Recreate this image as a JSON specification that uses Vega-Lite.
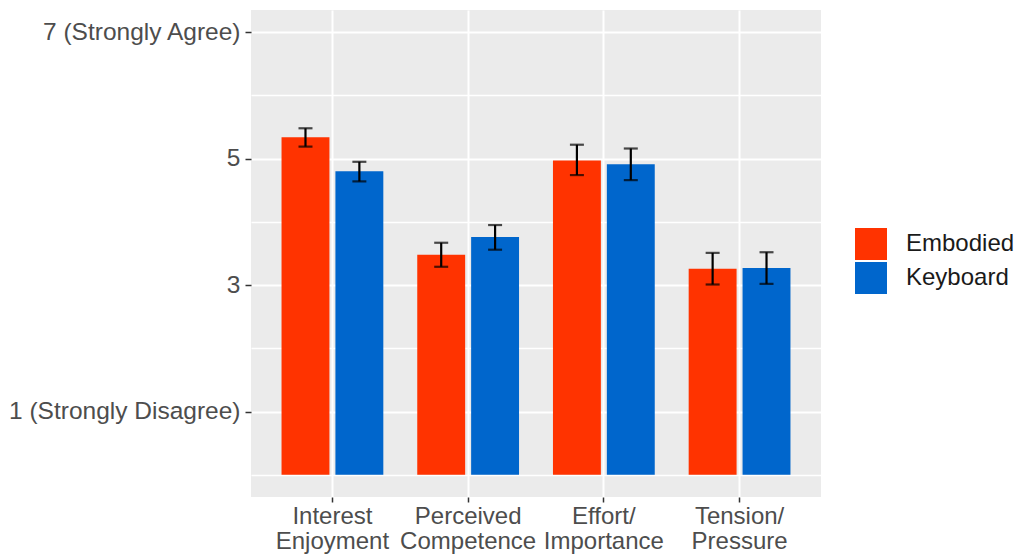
{
  "$schema": "https://vega.github.io/schema/vega-lite/v6.json",
  "autosize": {"type": "none"},
  "padding": {"left": 251, "top": 10, "right": 195, "bottom": 57},
  "width": 570,
  "height": 487,
  "background": "white",
  "data": {
    "values": [
      {"measure": "Interest Enjoyment", "condition": "Embodied", "mean": 5.34, "lo": 5.19, "hi": 5.48},
      {"measure": "Interest Enjoyment", "condition": "Keyboard", "mean": 4.8, "lo": 4.64, "hi": 4.95},
      {"measure": "Perceived Competence", "condition": "Embodied", "mean": 3.48, "lo": 3.29, "hi": 3.67},
      {"measure": "Perceived Competence", "condition": "Keyboard", "mean": 3.76, "lo": 3.56, "hi": 3.95},
      {"measure": "Effort/ Importance", "condition": "Embodied", "mean": 4.97, "lo": 4.74, "hi": 5.22},
      {"measure": "Effort/ Importance", "condition": "Keyboard", "mean": 4.91, "lo": 4.66, "hi": 5.16},
      {"measure": "Tension/ Pressure", "condition": "Embodied", "mean": 3.26, "lo": 3.01, "hi": 3.51},
      {"measure": "Tension/ Pressure", "condition": "Keyboard", "mean": 3.27, "lo": 3.02, "hi": 3.52}
    ]
  },
  "encoding": {
    "x": {
      "field": "measure",
      "type": "nominal",
      "sort": null,
      "scale": {"paddingInner": 0.25, "paddingOuter": 0.225},
      "axis": {
        "title": null,
        "labelAngle": 0,
        "labelFontSize": 24,
        "labelExpr": "split(datum.label, ' ')",
        "labelLineHeight": 25.5,
        "labelPadding": 2,
        "tickSize": 5,
        "bandPosition": 0.5,
        "grid": true
      }
    },
    "xOffset": {
      "field": "condition",
      "type": "nominal",
      "scale": {"paddingInner": 0.111, "paddingOuter": 0}
    }
  },
  "layer": [
    {
      "mark": {"type": "bar"},
      "encoding": {
        "y": {
          "field": "mean",
          "type": "quantitative",
          "scale": {"domain": [-0.35, 7.35], "nice": false, "zero": false},
          "axis": {
            "title": null,
            "values": [0, 1, 2, 3, 4, 5, 6, 7],
            "format": "d",
            "labelLimit": 0,
            "labelFontSize": 24.5,
            "labelExpr": "datum.value == 7 ? '7 (Strongly Agree)' : datum.value == 1 ? '1 (Strongly Disagree)' : datum.value % 2 == 1 ? datum.label : ''",
            "labelPadding": 5,
            "tickSize": 6,
            "tickOpacity": {"condition": {"test": "datum.value % 2 == 0", "value": 0}, "value": 1},
            "gridWidth": {"condition": {"test": "datum.value % 2 == 0", "value": 1.4}, "value": 2.2}
          }
        },
        "y2": {"datum": 0},
        "color": {
          "field": "condition",
          "type": "nominal",
          "scale": {"domain": ["Embodied", "Keyboard"], "range": ["#FF3300", "#0066CC"]},
          "legend": {
            "title": null,
            "orient": "none",
            "legendX": 604,
            "legendY": 218,
            "symbolType": "square",
            "symbolSize": 1024,
            "symbolStrokeWidth": 0,
            "symbolOpacity": 1,
            "labelFontSize": 24,
            "labelColor": "#1A1A1A",
            "labelOffset": 19,
            "rowPadding": 2,
            "padding": 0
          }
        }
      }
    },
    {
      "mark": {"type": "rule", "color": "black", "strokeWidth": 2.2},
      "encoding": {
        "y": {"field": "lo", "type": "quantitative"},
        "y2": {"field": "hi"}
      }
    },
    {
      "mark": {"type": "tick", "color": "black", "size": 14, "thickness": 2.2},
      "encoding": {
        "y": {"field": "lo", "type": "quantitative"}
      }
    },
    {
      "mark": {"type": "tick", "color": "black", "size": 14, "thickness": 2.2},
      "encoding": {
        "y": {"field": "hi", "type": "quantitative"}
      }
    }
  ],
  "config": {
    "font": "Liberation Sans",
    "view": {"fill": "#EBEBEB", "stroke": null},
    "axis": {
      "domain": false,
      "gridColor": "#FFFFFF",
      "gridWidth": 2,
      "labelFont": "Liberation Sans",
      "labelFontSize": 24,
      "labelColor": "#4D4D4D",
      "tickColor": "#333333",
      "tickWidth": 1.5
    },
    "legend": {"labelFont": "Liberation Sans"}
  }
}
